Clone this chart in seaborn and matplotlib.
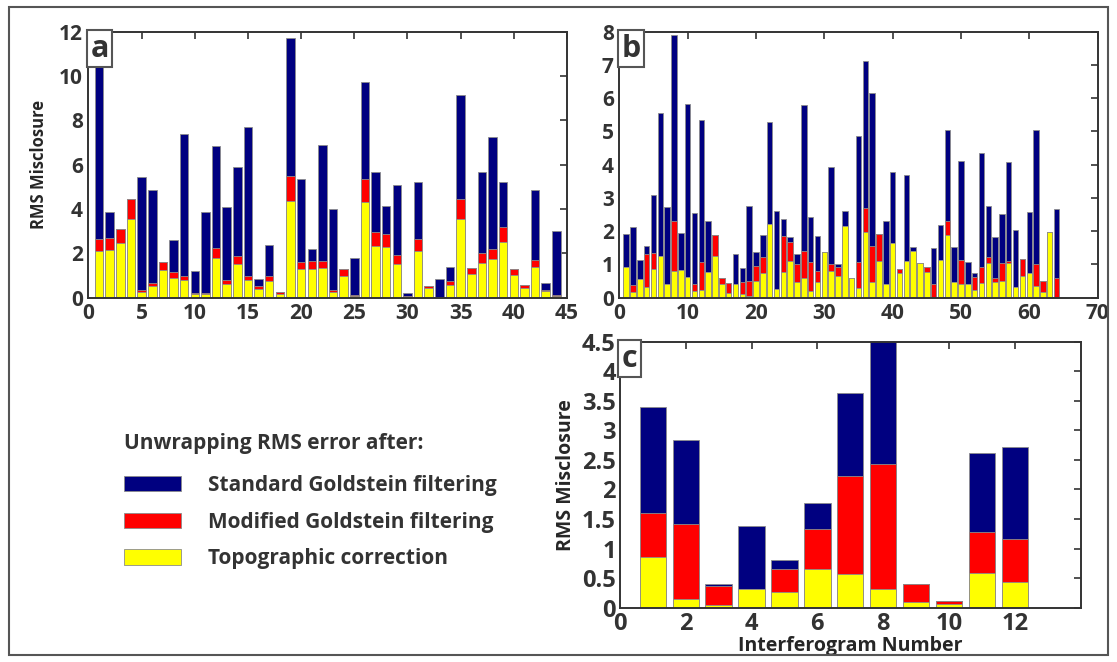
import numpy as np
import pandas as pd
import matplotlib
matplotlib.use("Agg")
import matplotlib.pyplot as plt
from matplotlib.patches import Patch, Rectangle
import seaborn as sns

# ---- data ----
# panel a: 44 interferograms
a_std = [10.8, 3.85, 3.1, 4.45, 5.44, 4.84, 1.59, 2.59, 7.37, 1.2, 3.85, 6.84, 4.09, 5.88, 7.68,
         0.83, 2.39, 0.24, 11.7, 5.35, 2.2, 6.87, 4.0, 1.28, 1.79, 9.71, 5.65, 4.14, 5.07, 0.23,
         5.2, 0.53, 0.86, 1.4, 9.13, 1.35, 5.67, 7.23, 5.23, 1.29, 0.59, 4.86, 0.66, 2.99]
a_mod = [2.63, 2.69, 3.1, 4.45, 0.35, 0.68, 1.59, 1.14, 1.0, 0.23, 0.23, 2.24, 0.8, 1.86, 1.0,
         0.53, 0.98, 0.24, 5.47, 1.61, 1.64, 1.67, 0.35, 1.28, 0.1, 5.37, 2.95, 2.89, 1.92, 0.06,
         2.65, 0.53, 0.02, 0.75, 4.47, 1.35, 2.0, 2.18, 3.17, 1.29, 0.59, 1.71, 0.35, 0.12]
a_topo = [2.12, 2.15, 2.45, 3.55, 0.27, 0.53, 1.25, 0.9, 0.8, 0.18, 0.18, 1.77, 0.62, 1.5, 0.8,
          0.41, 0.77, 0.17, 4.36, 1.28, 1.31, 1.32, 0.27, 0.99, 0.08, 4.3, 2.33, 2.3, 1.53, 0.04,
          2.1, 0.42, 0.01, 0.59, 3.56, 1.07, 1.58, 1.74, 2.53, 1.02, 0.45, 1.37, 0.29, 0.09]

# panel b: 64 interferograms
b_std = [1.93, 2.12, 1.13, 1.55, 3.09, 5.57, 2.74, 7.9, 1.94, 5.82, 2.54, 5.33, 2.31, 1.9, 0.58, 0.43,
         1.3, 0.88, 2.76, 1.38, 1.9, 5.27, 2.62, 2.37, 1.83, 1.3, 5.81, 2.42, 1.86, 1.38, 3.94, 1.01,
         2.61, 0.58, 4.86, 7.13, 6.15, 1.91, 2.32, 3.77, 0.86, 3.69, 1.53, 1.03, 0.91, 1.5, 2.19, 5.04,
         1.53, 4.11, 1.08, 0.73, 4.34, 2.77, 1.83, 2.52, 4.09, 2.04, 1.15, 2.59, 5.04, 0.5, 1.98, 2.67]
b_mod = [0.91, 0.38, 0.55, 1.31, 1.35, 1.26, 0.4, 2.31, 0.83, 0.63, 0.4, 1.06, 0.76, 1.9, 0.58, 0.43,
         0.4, 0.48, 0.5, 0.96, 1.21, 2.22, 0.25, 1.86, 1.68, 1.0, 1.4, 1.06, 0.8, 1.38, 1.01, 0.93,
         2.17, 0.58, 1.06, 2.69, 1.56, 1.91, 0.4, 1.66, 0.86, 1.1, 1.41, 1.03, 0.91, 0.41, 1.13, 2.32,
         0.48, 1.13, 0.41, 0.63, 0.91, 1.23, 0.58, 1.03, 1.1, 0.33, 1.15, 0.73, 1.0, 0.5, 1.98, 0.6]
b_topo = [0.91, 0.16, 0.55, 0.31, 0.85, 1.26, 0.4, 0.81, 0.83, 0.63, 0.2, 0.23, 0.76, 1.26, 0.4, 0.13,
          0.4, 0.1, 0.06, 0.5, 0.75, 2.22, 0.25, 0.76, 1.11, 0.48, 0.58, 0.21, 0.48, 1.38, 0.81, 0.66,
          2.17, 0.58, 0.28, 1.98, 0.46, 1.11, 0.4, 1.66, 0.73, 1.1, 1.41, 1.03, 0.78, 0.03, 1.13, 1.9,
          0.48, 0.41, 0.4, 0.23, 0.43, 1.03, 0.48, 0.5, 1.05, 0.33, 0.66, 0.73, 0.36, 0.18, 1.98, 0.0]

# panel c: 12 interferograms
c_std = [3.40, 2.83, 0.40, 1.38, 0.81, 1.78, 3.63, 4.55, 0.40, 0.12, 2.61, 2.72]
c_mod = [1.61, 1.42, 0.36, 0.31, 0.65, 1.34, 2.23, 2.43, 0.40, 0.11, 1.28, 1.16]
c_topo = [0.85, 0.15, 0.05, 0.31, 0.27, 0.66, 0.57, 0.31, 0.10, 0.07, 0.58, 0.44]

series = ["Standard Goldstein filtering", "Modified Goldstein filtering", "Topographic correction"]
colors = ["#000080", "#ff0000", "#ffff00"]

sns.set_theme(style="white")
plt.rcParams["font.family"] = ["Open Sans", "DejaVu Sans"]
txt = "#333333"
plt.rcParams["text.color"] = txt
plt.rcParams["xtick.color"] = txt
plt.rcParams["ytick.color"] = txt

fig = plt.figure(figsize=(11.17, 6.62), dpi=100)
ax_a = fig.add_axes([0.0792, 0.5503, 0.4284, 0.4018])
ax_b = fig.add_axes([0.5545, 0.5503, 0.4281, 0.4018])
ax_c = fig.add_axes([0.5550, 0.0820, 0.4124, 0.4018])


def draw(ax, std, mod, topo):
    x = np.arange(1, len(std) + 1)
    # overlaid bars: blue behind, then red, then yellow in front
    for vals, col in zip([std, mod, topo], colors):
        sns.barplot(x=x, y=vals, native_scale=True, color=col, saturation=1,
                    edgecolor="#8c8c8c", linewidth=0.6, errorbar=None, ax=ax)
    for s in ax.spines.values():
        s.set_visible(True)
        s.set_color("#333333")
        s.set_linewidth(1.4)
    ax.tick_params(direction="in", top=True, right=True, length=5, width=1.2,
                   labelsize=15, pad=4)
    ax.set_xlabel("")
    ax.set_ylabel("")


def bold_ticks(ax):
    for lab in ax.get_xticklabels() + ax.get_yticklabels():
        lab.set_fontweight("bold")


def panel_label(ax, s):
    ax.text(0.004, 0.993, s, transform=ax.transAxes, ha="left", va="top",
            fontsize=22, fontweight="bold", zorder=10,
            bbox=dict(boxstyle="square,pad=0.12", fc="white", ec="#555555", lw=1.5))


draw(ax_a, a_std, a_mod, a_topo)
ax_a.set_xlim(0, 45)
ax_a.set_ylim(0, 12)
ax_a.set_xticks(range(0, 46, 5))
ax_a.set_yticks(range(0, 13, 2))
ax_a.set_ylabel("RMS Misclosure", fontsize=12, fontweight="bold", labelpad=8)
bold_ticks(ax_a)
panel_label(ax_a, "a")

draw(ax_b, b_std, b_mod, b_topo)
ax_b.set_xlim(0, 70)
ax_b.set_ylim(0, 8)
ax_b.set_xticks(range(0, 71, 10))
ax_b.set_yticks(range(0, 9))
bold_ticks(ax_b)
panel_label(ax_b, "b")

draw(ax_c, c_std, c_mod, c_topo)
ax_c.set_xlim(0, 14)
ax_c.set_ylim(0, 4.5)
ax_c.set_xticks(range(0, 13, 2))
ax_c.set_yticks(np.arange(0, 4.51, 0.5))
ax_c.set_yticklabels(["0", "0.5", "1", "1.5", "2", "2.5", "3", "3.5", "4", "4.5"])
ax_c.tick_params(labelsize=17, pad=3)
ax_c.set_xlabel("Interferogram Number", fontsize=14, fontweight="bold", labelpad=0)
ax_c.set_ylabel("RMS Misclosure", fontsize=14, fontweight="bold", labelpad=4)
bold_ticks(ax_c)
panel_label(ax_c, "c")

handles = [Patch(facecolor=c, edgecolor="#8c8c8c", linewidth=0.6) for c in colors]
leg = fig.legend(handles, series, loc="upper left", bbox_to_anchor=(0.094, 0.374),
                 frameon=False, title="Unwrapping RMS error after:",
                 prop={"size": 15, "weight": "bold"},
                 title_fontproperties={"size": 15, "weight": "bold"},
                 handlelength=2.75, handleheight=0.75, handletextpad=1.3,
                 labelspacing=0.75, alignment="left")
leg._legend_box.sep = 15

# outer frame around the whole figure
fig.add_artist(Rectangle((0.008, 0.01), 0.984, 0.98, transform=fig.transFigure,
                         fill=False, ec="#555555", lw=1.5))

fig.savefig("out.png", dpi=100)
